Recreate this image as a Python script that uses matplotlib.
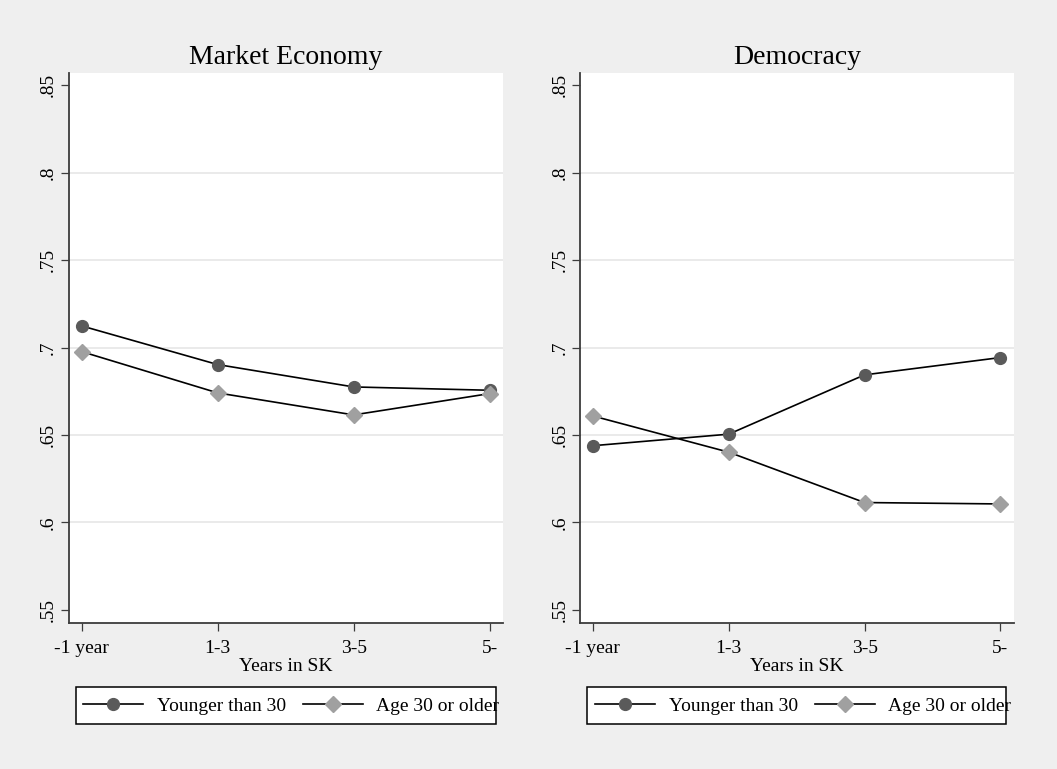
import matplotlib
matplotlib.use("Agg")
import matplotlib.pyplot as plt
from matplotlib.patches import Rectangle

# Data
periods = ["-1 year", "1-3", "3-5", "5-"]
panels = ["Market Economy", "Democracy"]
market_younger = [0.7124, 0.6903, 0.6775, 0.6756]
market_older = [0.6977, 0.6741, 0.6615, 0.6737]
democracy_younger = [0.6439, 0.6505, 0.6844, 0.6943]
democracy_older = [0.6609, 0.6402, 0.6114, 0.6106]
series_names = ["Younger than 30", "Age 30 or older"]
y_ticks = [0.55, 0.60, 0.65, 0.70, 0.75, 0.80, 0.85]
y_tick_labels = [".55", ".6", ".65", ".7", ".75", ".8", ".85"]
x_label = "Years in SK"

panel_data = [(market_younger, market_older), (democracy_younger, democracy_older)]

plt.rcParams["font.family"] = ["Liberation Serif", "DejaVu Serif"]

BG = "#efefef"
AXIS = "#3c3c3c"
W, H = 1057, 769

fig = plt.figure(figsize=(W / 100, H / 100), dpi=100, facecolor=BG)

# axes boxes in pixels: left, top, right, bottom
boxes = [(69, 73, 503, 622.7), (580.3, 73, 1013.7, 622.7)]
legend_boxes = [(76, 687.3, 496, 724.3), (587, 687.3, 1006.3, 724.3)]
legend_anchor_x = [83.3, 595.3]
legend_y = 706

x = list(range(1, len(periods) + 1))

for i, (title, (young, old)) in enumerate(zip(panels, panel_data)):
    l, t, r, b = boxes[i]
    ax = fig.add_axes([l / W, 1 - b / H, (r - l) / W, (b - t) / H])
    ax.set_facecolor("white")

    ly, = ax.plot(x, young, color="black", lw=1.2, marker="o", ms=8.5,
                  mfc="#5a5a5a", mec="#5a5a5a", zorder=3)
    lo, = ax.plot(x, old, color="black", lw=1.2, marker="D", ms=7.8,
                  mfc="#a0a0a0", mec="#a0a0a0", zorder=3)

    ax.set_xlim(0.907, 4.098)
    ax.set_ylim(0.5427, 0.857)
    ax.set_xticks(x)
    ax.set_xticklabels(periods, fontsize=14)
    ax.set_yticks(y_ticks)
    ax.set_yticklabels(y_tick_labels, fontsize=14, rotation=90, va="center")

    ax.tick_params(axis="both", length=6, width=0.9, color=AXIS)
    ax.tick_params(axis="x", pad=6.5)
    ax.tick_params(axis="y", pad=2.5)

    for side in ["top", "right"]:
        ax.spines[side].set_visible(False)
    for side in ["left", "bottom"]:
        ax.spines[side].set_color(AXIS)
        ax.spines[side].set_linewidth(1.3)

    ax.yaxis.grid(True, color="#e4e4e4", lw=1.1)
    ax.set_axisbelow(True)
    for val, gl in zip(y_ticks, ax.get_ygridlines()):
        if val in (y_ticks[0], y_ticks[-1]):
            gl.set_visible(False)

    ax.set_title(title, fontsize=20, pad=6.5)
    ax.set_xlabel(x_label, fontsize=14, labelpad=0.5)

    # legend frame, drawn beneath the legend entries
    bl, bt, br, bb = legend_boxes[i]
    fig.patches.append(Rectangle((bl / W, 1 - bb / H), (br - bl) / W, (bb - bt) / H,
                                 transform=fig.transFigure, facecolor="white",
                                 edgecolor="black", lw=1.1, zorder=-1))
    leg = ax.legend([ly, lo], series_names, ncol=2, frameon=False, fontsize=14,
                    loc="center left",
                    bbox_to_anchor=(legend_anchor_x[i] / W, 1 - legend_y / H),
                    bbox_transform=fig.transFigure, borderaxespad=0, borderpad=0,
                    handlelength=3.09, handletextpad=0.69, columnspacing=0.86,
                    numpoints=1)
    leg.set_zorder(10)

fig.savefig("out.png", dpi=100, facecolor=BG)
